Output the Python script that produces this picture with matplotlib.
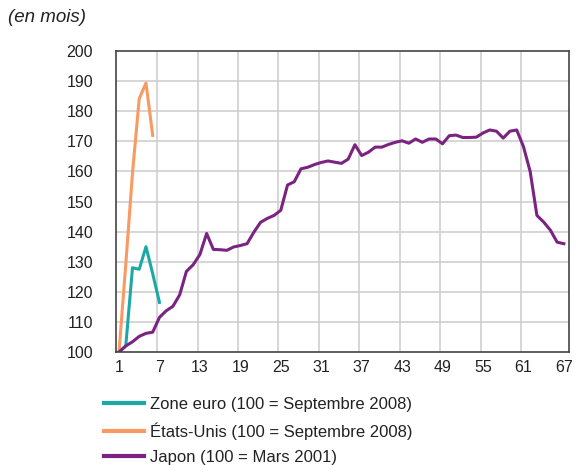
import matplotlib.pyplot as plt
import numpy as np

plt.rcParams['font.family'] = ['Liberation Sans', 'DejaVu Sans']
TICK_SIZE = 11.5
LEGEND_SIZE = 12

# Indices (base 100), en mois depuis le début de la crise
months_euro = [1, 2, 3, 4, 5, 6, 7]
zone_euro = [100, 102, 128, 127.5, 135, 126, 116.5]

months_us = [1, 2, 3, 4, 5, 6]
etats_unis = [100, 129, 159.5, 184.2, 189.4, 172]

months_japon = list(range(1, 68))
japon = [100, 102, 103.4, 105.2, 106.2, 106.6, 111.5, 113.7, 115.2, 119,
         126.8, 129, 132.4, 139.4, 134.1, 134, 133.8, 134.9, 135.4, 136,
         139.8, 143.1, 144.4, 145.4, 147.1, 155.5, 156.6, 160.9, 161.4, 162.3,
         163, 163.5, 163.1, 162.7, 164.1, 168.9, 165.3, 166.4, 168.1, 168.1,
         169, 169.7, 170.2, 169.4, 170.8, 169.7, 170.8, 170.8, 169.2, 171.9,
         172.1, 171.3, 171.3, 171.4, 172.8, 173.8, 173.4, 171.1, 173.4, 173.8,
         168.3, 160, 145.4, 143.2, 140.5, 136.5, 136.0]

x_ticks = [1, 7, 13, 19, 25, 31, 37, 43, 49, 55, 61, 67]
y_ticks = list(range(100, 201, 10))

colors = {'euro': '#1BA8A6', 'us': '#F99A62', 'japon': '#7A2380'}

fig = plt.figure(figsize=(5.77, 4.65), dpi=100)
ax = fig.add_axes([0.201, 0.243, 0.785, 0.647])

l1, = ax.plot(months_euro, zone_euro, color=colors['euro'], lw=2.2)
l2, = ax.plot(months_us, etats_unis, color=colors['us'], lw=2.2)
l3, = ax.plot(months_japon, japon, color=colors['japon'], lw=2.2)

ax.set_xlim(0.55, 67.75)
ax.set_ylim(100, 200)
ax.set_xticks(x_ticks)
ax.set_yticks(y_ticks)
ax.tick_params(length=0, labelsize=TICK_SIZE, colors='#222222')
ax.tick_params(axis='y', pad=16.5)
ax.tick_params(axis='x', pad=6)

# grille (légèrement décalée à gauche des étiquettes, comme l'original)
for y in y_ticks[1:-1]:
    ax.axhline(y, color='#cfcfcf', lw=1.2, zorder=0)
for x in x_ticks[1:-1]:
    ax.axvline(x - 0.35, color='#cfcfcf', lw=1.2, zorder=0)

for s in ax.spines.values():
    s.set_color('#444444')
    s.set_linewidth(1.2)

fig.text(0.014, 0.963, '(en mois)', fontsize=13.5, style='italic', color='#222222',
         va='center', ha='left')

leg = fig.legend([l1, l2, l3],
                 ['Zone euro (100 = Septembre 2008)',
                  'États-Unis (100 = Septembre 2008)',
                  'Japon (100 = Mars 2001)'],
                 loc='upper left', bbox_to_anchor=(0.154, 0.179),
                 bbox_transform=fig.transFigure, frameon=False, fontsize=LEGEND_SIZE,
                 handlelength=2.4, handletextpad=0.35, labelspacing=0.62)
for t in leg.get_texts():
    t.set_color('#222222')
for line in leg.get_lines():
    line.set_linewidth(3)

fig.savefig('out.png', dpi=100)
